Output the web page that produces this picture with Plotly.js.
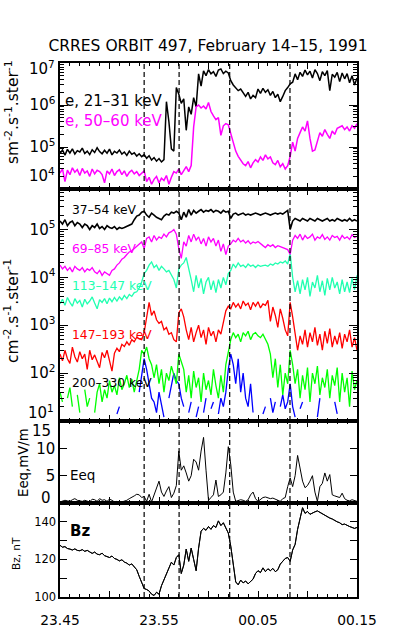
<!DOCTYPE html>
<html>
<head>
<meta charset="utf-8">
<script src="https://cdn.plot.ly/plotly-3.0.1.min.js"></script>
<style>html,body{margin:0;padding:0;background:#fff;}#chart{width:398px;height:629px;}</style>
</head>
<body>
<div id="chart"></div>
<script>
// ---- time sampling (minutes after 23:45 UT) ----
const startMinute = 0;
const sampleStep = 0.25;
const timeTickVals = [0, 5, 10, 15, 20, 25, 30];
const timeLabelVals = [0, 10, 20, 30];
const timeLabelText = ['23.45', '23.55', '00.05', '00.15'];
const eventTimes = [8.5, 12.03, 17.14, 23.23];

// ---- panel 1: electron fluxes ----
const e21_31 = [
7.0e4,8.5e4,6.4e4,8.8e4,7.2e4,9.0e4,6.8e4,8.2e4,7.6e4,9.4e4,
7.0e4,8.0e4,6.6e4,8.6e4,7.4e4,9.6e4,7.8e4,6.9e4,8.4e4,7.1e4,
8.9e4,6.5e4,7.9e4,7.2e4,8.5e4,6.8e4,7.6e4,6.3e4,8.0e4,6.7e4,
7.3e4,6.1e4,6.9e4,5.9e4,6.6e4,5.4e4,6.2e4,4.9e4,5.6e4,4.6e4,
5.3e4,4.4e4,5.0e4,1.2e6,4.0e5,9.0e4,8.0e4,2.6e6,1.8e6,1.1e6,
1.4e6,2.5e5,9.0e5,6.0e5,1.5e6,9.0e5,5.5e6,2.8e6,6.5e6,5.0e6,
7.0e6,5.5e6,6.2e6,4.8e6,6.8e6,7.2e6,5.6e6,6.4e6,5.8e6,3.8e6,
3.0e6,2.6e6,2.2e6,2.4e6,1.9e6,1.6e6,2.0e6,1.4e6,1.7e6,1.5e6,
2.4e6,1.9e6,2.5e6,2.0e6,2.3e6,1.7e6,2.1e6,1.5e6,1.8e6,1.2e6,
1.6e6,2.2e6,2.6e6,3.2e6,3.5e6,5.5e6,4.0e6,6.0e6,4.8e6,6.8e6,
5.2e6,6.4e6,4.4e6,6.9e6,5.6e6,3.8e6,6.2e6,5.0e6,6.6e6,2.2e6,
5.4e6,4.6e6,6.0e6,3.6e6,5.8e6,4.2e6,5.6e6,3.4e6,5.0e6,3.0e6,
4.4e6];
const e50_60 = [
2.4e4,3.0e4,1.5e4,2.8e4,2.2e4,3.2e4,2.5e4,2.9e4,2.1e4,3.1e4,
2.4e4,2.7e4,2.0e4,3.0e4,2.3e4,2.8e4,2.6e4,2.2e4,1.4e4,2.7e4,
2.3e4,3.0e4,2.1e4,2.6e4,2.9e4,2.2e4,2.7e4,2.0e4,2.5e4,2.8e4,
2.3e4,2.6e4,2.1e4,2.4e4,2.7e4,1.5e4,1.9e4,1.3e4,1.7e4,2.0e4,
1.4e4,1.8e4,1.6e4,2.1e4,1.3e4,1.9e4,2.6e4,2.4e4,3.0e4,2.2e4,
2.8e4,3.4e4,2.6e4,3.6e4,3.0e5,9.0e5,1.0e6,8.5e5,9.5e5,8.0e5,
1.15e6,7.0e5,5.5e5,4.5e5,5.0e5,1.9e5,3.2e5,3.6e5,3.4e5,2.0e5,
1.2e5,8.0e4,6.0e4,5.0e4,4.0e4,3.6e4,4.5e4,3.2e4,4.2e4,5.0e4,
4.4e4,5.8e4,4.8e4,6.5e4,5.2e4,5.8e4,4.2e4,3.8e4,4.8e4,3.4e4,
4.0e4,3.0e4,3.6e4,6.0e4,1.3e5,8.0e4,1.6e5,2.2e5,3.0e5,2.4e5,
4.2e5,1.6e5,8.0e4,8.5e4,1.4e5,2.2e5,1.8e5,2.6e5,2.0e5,1.6e5,
2.4e5,2.0e5,2.8e5,3.0e5,3.2e5,2.6e5,3.0e5,2.4e5,3.2e5,2.8e5,
3.6e5];

// ---- panel 2: ion fluxes ----
const p37_54 = [
1.5e5,1.3e5,1.6e5,1.2e5,1.4e5,1.5e5,1.2e5,1.4e5,1.3e5,1.1e5,
1.3e5,1.2e5,1.0e5,1.2e5,1.1e5,1.3e5,1.05e5,1.15e5,1.0e5,1.2e5,
1.1e5,1.05e5,1.15e5,1.0e5,1.1e5,1.05e5,1.1e5,1.15e5,1.2e5,1.3e5,
1.6e5,1.9e5,2.0e5,2.3e5,2.4e5,2.0e5,1.8e5,2.2e5,2.0e5,1.8e5,
1.7e5,1.6e5,1.9e5,2.1e5,2.0e5,2.3e5,2.2e5,2.4e5,2.2e5,1.6e5,
2.3e5,1.8e5,2.6e5,2.0e5,2.5e5,2.2e5,2.4e5,2.6e5,2.3e5,2.5e5,
2.4e5,2.6e5,2.3e5,2.5e5,2.4e5,2.2e5,2.5e5,2.3e5,2.4e5,1.7e5,
2.1e5,2.2e5,2.0e5,2.1e5,2.2e5,2.0e5,2.1e5,2.0e5,2.1e5,2.2e5,
2.1e5,2.0e5,2.1e5,2.2e5,2.1e5,2.0e5,2.1e5,2.2e5,2.1e5,2.2e5,
2.1e5,2.3e5,2.5e5,1.0e5,1.5e5,1.7e5,1.6e5,1.5e5,1.7e5,1.6e5,
1.5e5,1.7e5,1.6e5,1.5e5,1.7e5,1.6e5,1.5e5,1.6e5,1.7e5,1.5e5,
1.6e5,1.5e5,1.7e5,1.6e5,1.5e5,1.6e5,1.5e5,1.7e5,1.5e5,1.6e5,
1.5e5];
const p69_85 = [
1.8e4,1.5e4,1.7e4,1.4e4,1.6e4,1.3e4,1.7e4,1.5e4,1.4e4,1.6e4,
1.3e4,1.5e4,1.4e4,1.6e4,1.3e4,1.2e4,1.4e4,1.1e4,1.3e4,1.2e4,
1.1e4,1.4e4,1.5e4,1.8e4,2.0e4,2.4e4,2.6e4,3.0e4,3.4e4,3.6e4,
4.0e4,4.4e4,5.0e4,5.5e4,4.0e4,6.5e4,7.0e4,5.5e4,7.5e4,6.0e4,
7.0e4,6.5e4,8.0e4,7.0e4,8.5e4,9.0e4,1.0e5,8.0e4,4.0e4,2.5e4,
5.5e4,4.5e4,7.5e4,5.5e4,8.0e4,6.0e4,7.0e4,5.0e4,6.5e4,4.5e4,
7.0e4,5.5e4,6.5e4,4.5e4,6.0e4,3.5e4,5.0e4,3.0e4,4.5e4,5.0e4,
6.0e4,5.5e4,6.5e4,5.5e4,6.0e4,5.2e4,5.8e4,5.0e4,5.5e4,5.2e4,
5.6e4,5.0e4,4.6e4,4.2e4,4.8e4,4.4e4,4.8e4,4.2e4,4.6e4,4.4e4,
4.2e4,4.0e4,3.8e4,3.0e4,6.0e4,7.5e4,6.5e4,8.0e4,6.0e4,7.5e4,
6.5e4,7.0e4,8.0e4,6.0e4,7.0e4,6.5e4,7.8e4,6.2e4,7.0e4,6.0e4,
7.5e4,6.8e4,7.2e4,6.0e4,7.5e4,6.5e4,7.0e4,6.2e4,7.8e4,6.8e4,
7.2e4];
const p113_147 = [
2.8e3,3.5e3,2.6e3,3.8e3,3.0e3,2.5e3,3.6e3,2.9e3,3.3e3,2.4e3,
3.5e3,2.8e3,3.2e3,3.9e3,2.9e3,2.2e3,3.4e3,3.0e3,3.6e3,2.8e3,
3.7e3,3.1e3,3.8e3,3.2e3,3.9e3,3.4e3,4.2e3,3.6e3,4.4e3,4.0e3,
4.8e3,5.0e3,6.0e3,8.0e3,1.2e4,1.4e4,1.8e4,2.1e4,1.6e4,1.8e4,
1.4e4,1.7e4,1.5e4,1.3e4,1.4e4,1.1e4,9.0e3,6.0e3,1.5e4,1.8e4,
2.0e4,2.6e4,1.6e4,9.0e3,5.0e3,1.1e4,6.0e3,9.5e3,4.5e3,8.0e3,
1.0e4,5.5e3,8.5e3,4.8e3,9.0e3,6.0e3,1.0e4,7.0e3,1.2e4,1.4e4,
1.9e4,1.6e4,2.0e4,1.7e4,1.8e4,1.6e4,1.9e4,1.7e4,1.8e4,1.6e4,
1.8e4,1.7e4,1.75e4,1.8e4,1.7e4,1.9e4,1.8e4,2.0e4,1.9e4,2.1e4,
2.0e4,2.2e4,1.9e4,3.2e4,1.0e4,5.0e3,8.5e3,4.5e3,9.0e3,5.5e3,
1.0e4,4.0e3,8.0e3,6.0e3,1.1e4,5.0e3,8.5e3,4.2e3,9.5e3,5.5e3,
1.0e4,6.0e3,8.0e3,4.5e3,9.0e3,5.0e3,8.0e3,4.8e3,9.5e3,5.5e3,
1.1e4];
const p147_193 = [
250,180,300,200,160,350,220,170,280,200,
250,120,300,190,240,170,130,270,210,300,
180,110,260,330,280,400,360,450,380,500,
450,560,520,500,700,1400,3000,1600,2000,1300,
1100,1200,800,900,650,700,500,450,1800,2200,
1500,800,500,900,450,700,1000,550,800,400,
900,600,750,450,800,650,1100,2000,2500,2200,
3000,2400,2800,2200,3200,2600,2900,2100,3000,2500,
3100,2300,2800,2600,3300,1200,2400,1600,900,2200,
1400,800,600,3000,1500,700,300,600,400,800,
350,700,450,900,380,650,300,750,420,850,
350,600,400,700,330,650,450,800,350,550,
300];
const p200_330 = [
40,25,null,30,50,20,null,35,15,null,
45,20,30,null,15,40,60,25,45,30,
70,40,55,35,80,45,60,90,50,75,
40,65,120,300,250,350,200,150,80,150,
60,120,40,100,70,140,90,60,250,180,
120,40,90,30,110,50,80,25,100,45,
70,35,120,55,30,90,40,150,300,500,
700,550,650,450,700,600,750,500,650,700,
600,550,650,500,400,250,80,200,50,150,
35,100,60,300,150,60,120,30,90,45,
130,25,100,60,140,35,80,50,120,30,
90,55,130,25,100,40,80,20,110,45,
70];
const pBlue = [
null,null,null,null,null,null,null,null,null,null,
null,null,null,null,null,null,null,null,null,null,
null,null,null,14,20,null,null,12,null,null,
16,null,40,100,200,120,60,30,25,15,
40,20,12,null,30,60,100,70,60,30,
20,null,15,25,null,12,20,null,15,30,
null,18,25,null,14,30,20,40,120,250,
150,60,200,40,100,30,20,60,15,null,
25,null,14,20,null,30,15,25,null,20,
35,18,25,60,20,12,null,18,25,null,
15,null,20,null,12,30,null,15,null,18,
null,25,14,null,null,20,null,15,null,12,
null];

// ---- panel 3: equatorial electric field (mV/m) ----
const eeq = [
0.2,0.3,0.5,0.4,0.3,0.6,0.8,0.5,0.4,0.3,
0.5,0.4,0.2,0.7,0.6,0.3,0.8,0.5,0.6,0.3,
0.7,0.5,0.2,0.3,0.1,0.2,0.3,0.5,0.8,1.0,
1.3,1.6,1.5,1.0,1.2,0.3,1.6,0.2,1.5,3.0,
4.0,2.0,1.2,2.2,3.0,1.0,1.8,3.2,9.5,6.0,
6.8,5.5,4.0,5.0,8.0,7.5,6.0,9.5,12.0,6.0,
0.5,1.0,1.5,4.2,1.2,1.5,2.0,5.5,10.3,7.0,
2.0,0.3,0.5,0.6,0.5,0.3,0.6,1.5,2.0,0.8,
0.3,0.6,1.0,1.1,0.9,0.8,0.9,0.7,0.5,0.3,
0.8,1.0,3.0,4.6,3.0,5.0,8.7,6.0,4.0,2.8,
3.2,4.0,5.0,2.0,0.3,3.0,3.6,5.5,4.0,5.2,
1.5,1.3,1.2,1.0,1.8,0.8,0.5,0.4,0.6,0.5,
0.3];

// ---- panel 4: magnetic field Bz (nT) ----
const bz = [
127.5,126.5,126.8,125.8,125.5,125.0,125.6,124.8,124.6,125.2,
124.3,124.8,124.0,123.2,123.9,122.8,122.5,123.3,122.0,121.6,
121.0,121.8,120.5,120.0,119.2,119.8,118.6,118.0,117.0,117.6,
116.0,114.5,111.0,107.5,104.5,104.0,103.2,101.5,100.8,102.5,
101.5,106.0,109.0,112.5,115.0,118.5,117.0,121.0,122.5,112.5,
117.0,125.5,119.0,126.0,120.0,114.0,126.0,135.0,136.5,135.5,
137.5,136.0,138.0,137.0,140.5,138.0,139.5,136.5,134.0,127.0,
116.0,108.0,106.5,109.0,107.5,108.5,107.0,108.2,109.5,112.5,
114.0,113.0,115.5,113.5,115.0,114.0,115.2,113.5,114.5,117.5,
119.0,120.5,121.0,119.0,125.0,128.0,136.0,141.0,147.5,144.5,
145.5,144.0,144.8,145.3,145.8,145.0,144.5,143.5,143.0,142.0,
141.5,140.5,140.0,139.5,138.5,138.8,138.0,137.5,137.0,136.5,
137.0];

// ---- text ----
const titleText = 'CRRES ORBIT 497, February 14–15, 1991';
const seriesLabels1 = ['e, 21–31 keV', 'e, 50–60 keV'];
const seriesLabels2 = ['37–54 keV', '69–85 keV', '113–147 keV', '147–193 keV', '200–330 keV'];

const FONT = 'DejaVu Sans, sans-serif';
const AQUA = '#20ffb0';

function tr(y, xa, ya, color, width) {
  return {type: 'scatter', mode: 'lines', x0: startMinute, dx: sampleStep, y: y,
    xaxis: xa, yaxis: ya, line: {color: color, width: width}, hoverinfo: 'skip', connectgaps: false};
}

const data = [
  tr(e21_31, 'x', 'y', '#000000', 1.5),
  tr(e50_60, 'x', 'y', '#ff00ff', 1.5),
  tr(pBlue, 'x2', 'y2', '#0000ff', 1.3),
  tr(p200_330, 'x2', 'y2', '#00ff00', 1.3),
  tr(p147_193, 'x2', 'y2', '#ff0000', 1.3),
  tr(p113_147, 'x2', 'y2', AQUA, 1.3),
  tr(p69_85, 'x2', 'y2', '#ff00ff', 1.3),
  tr(p37_54, 'x2', 'y2', '#000000', 1.6),
  tr(eeq, 'x3', 'y3', '#000000', 1),
  tr(bz, 'x4', 'y4', '#000000', 1),
  // Bz again on the label axis so that the time labels are drawn
  tr(bz, 'x5', 'y4', '#000000', 1)
];

function xax(anchor) {
  return {
    domain: [0, 1], range: [0, 30], anchor: anchor,
    tickmode: 'array', tickvals: timeTickVals,
    showticklabels: false, ticks: 'inside', ticklen: 6, tickwidth: 1, tickcolor: '#000',
    minor: {ticks: 'inside', tickmode: 'linear', tick0: 0, dtick: 1, ticklen: 3, tickwidth: 1, tickcolor: '#000', showgrid: false},
    showline: true, linecolor: '#000', linewidth: 1.6, mirror: 'ticks',
    showgrid: false, zeroline: false
  };
}
function logy(domain, anchor, range, vals, texts) {
  return {
    domain: domain, anchor: anchor, type: 'log', range: range,
    tickmode: 'array', tickvals: vals, ticktext: texts,
    ticks: 'inside', ticklen: 8, tickwidth: 1, tickcolor: '#000',
    minor: {ticks: 'inside', tickmode: 'linear', dtick: 'D1', ticklen: 4, tickwidth: 1, tickcolor: '#000', showgrid: false},
    showline: true, linecolor: '#000', linewidth: 1.6, mirror: 'ticks',
    showgrid: false, zeroline: false,
    tickfont: {family: FONT, size: 15, color: '#000'}
  };
}

const layout = {
  width: 398, height: 629,
  margin: {l: 60, r: 41, t: 63, b: 32, pad: 0},
  paper_bgcolor: '#fff', plot_bgcolor: '#fff', showlegend: false,
  title: {text: titleText, font: {family: FONT, size: 15.5, color: '#000'},
    xref: 'container', yref: 'container', x: 0.5226, xanchor: 'center', y: 0.927, yanchor: 'middle'},
  xaxis: xax('y'), xaxis2: Object.assign(xax('y2'), {matches: 'x'}),
  xaxis3: Object.assign(xax('y3'), {matches: 'x'}), xaxis4: Object.assign(xax('y4'), {matches: 'x'}),
  xaxis5: {overlaying: 'x4', anchor: 'y4', side: 'bottom', range: [0, 30], tickmode: 'array',
    tickvals: timeLabelVals, ticktext: timeLabelText, ticks: '', showline: false, showgrid: false, zeroline: false,
    tickfont: {family: FONT, size: 13.8, color: '#000'}, ticklabelstandoff: 13},
  yaxis: logy([0.764, 1], 'x', [4, 7], [1e5, 1e6], ['10<sup>5</sup>', '10<sup>6</sup>']),
  yaxis2: logy([0.3296, 0.764], 'x2', [1, 5.845], [100, 1000, 1e4, 1e5], ['10<sup>2</sup>', '10<sup>3</sup>', '10<sup>4</sup>', '10<sup>5</sup>']),
  yaxis3: {domain: [0.176, 0.3296], anchor: 'x3', range: [0, 15], tickmode: 'array', tickvals: [5, 10],
    ticks: 'inside', ticklen: 7, tickwidth: 1, tickcolor: '#000', showline: true, linecolor: '#000', linewidth: 1.6, mirror: 'ticks',
    showgrid: false, zeroline: false, tickfont: {family: FONT, size: 15, color: '#000'}},
  yaxis4: {domain: [0, 0.176], anchor: 'x4', range: [100, 150], tickmode: 'array', tickvals: [100, 120, 140],
    minor: {ticks: 'inside', tickmode: 'linear', tick0: 100, dtick: 10, ticklen: 7, tickwidth: 1, tickcolor: '#000', showgrid: false},
    ticks: 'inside', ticklen: 7, tickwidth: 1, tickcolor: '#000', showline: true, linecolor: '#000', linewidth: 1.6, mirror: 'ticks',
    showgrid: false, zeroline: false, tickfont: {family: FONT, size: 11.5, color: '#000'}},
  shapes: eventTimes.map(t => ({type: 'line', xref: 'x', yref: 'paper', x0: t, x1: t, y0: 0, y1: 1,
    line: {color: '#000', width: 1.2, dash: '5px,3px'}})),
  annotations: []
};

function ann(text, x, y, opts) {
  return Object.assign({text: text, xref: 'paper', yref: 'paper', x: x, y: y, showarrow: false,
    xanchor: 'left', yanchor: 'middle', font: {family: FONT, size: 14, color: '#000'}}, opts || {});
}
const A = layout.annotations;
A.push(ann(seriesLabels1[0], 0.0101, 0.9288, {font: {family: FONT, size: 15, color: '#000'}}));
A.push(ann(seriesLabels1[1], 0.0101, 0.8914, {font: {family: FONT, size: 15, color: '#ff00ff'}}));
const lab2Colors = ['#000000', '#ff00ff', AQUA, '#ff0000', '#000000'];
const lab2Y = [0.7247, 0.6517, 0.5824, 0.4906, 0.4007];
seriesLabels2.forEach((t, i) => A.push(ann(t, 0.0337, lab2Y[i], {font: {family: FONT, size: 12.3, color: lab2Colors[i]}})));
A.push(ann('Eeq', 0.0269, 0.229, {font: {family: FONT, size: 13.5, color: '#000'}}));
A.push(ann('<b>Bz</b>', 0.0269, 0.1236, {font: {family: FONT, size: 15, color: '#000'}}));
// axis titles
A.push(ann('sm<sup>-2</sup>.s<sup>-1</sup>.ster<sup>-1</sup>', -0.1616, 0.9082, {xanchor: 'center', textangle: -90, font: {family: FONT, size: 15.5, color: '#000'}}));
A.push(ann('cm<sup>-2</sup>.s<sup>-1</sup>.ster<sup>-1</sup>', -0.1616, 0.5356, {xanchor: 'center', textangle: -90, font: {family: FONT, size: 15.5, color: '#000'}}));
A.push(ann('Eeq,mV/m', -0.1246, 0.2528, {xanchor: 'center', textangle: -90, font: {family: FONT, size: 13.3, color: '#000'}}));
A.push(ann('Bz, nT', -0.1481, 0.0805, {xanchor: 'center', textangle: -90, font: {family: FONT, size: 10.5, color: '#000'}}));
// edge tick labels (drawn inset like the original)
A.push(ann('10<sup>7</sup>', -0.011, 0.9906, {xanchor: 'right', font: {family: FONT, size: 15, color: '#000'}}));
A.push(ann('10<sup>4</sup>', -0.011, 0.7903, {xanchor: 'right', font: {family: FONT, size: 15, color: '#000'}}));
A.push(ann('10<sup>1</sup>', -0.015, 0.3464, {xanchor: 'right', font: {family: FONT, size: 15, color: '#000'}}));
A.push(ann('15', -0.022, 0.3109, {xanchor: 'right', font: {family: FONT, size: 15, color: '#000'}}));
A.push(ann('0', -0.022, 0.1854, {xanchor: 'right', font: {family: FONT, size: 15, color: '#000'}}));

Plotly.newPlot('chart', data, layout, {staticPlot: true, displayModeBar: false});
</script>
</body>
</html>
